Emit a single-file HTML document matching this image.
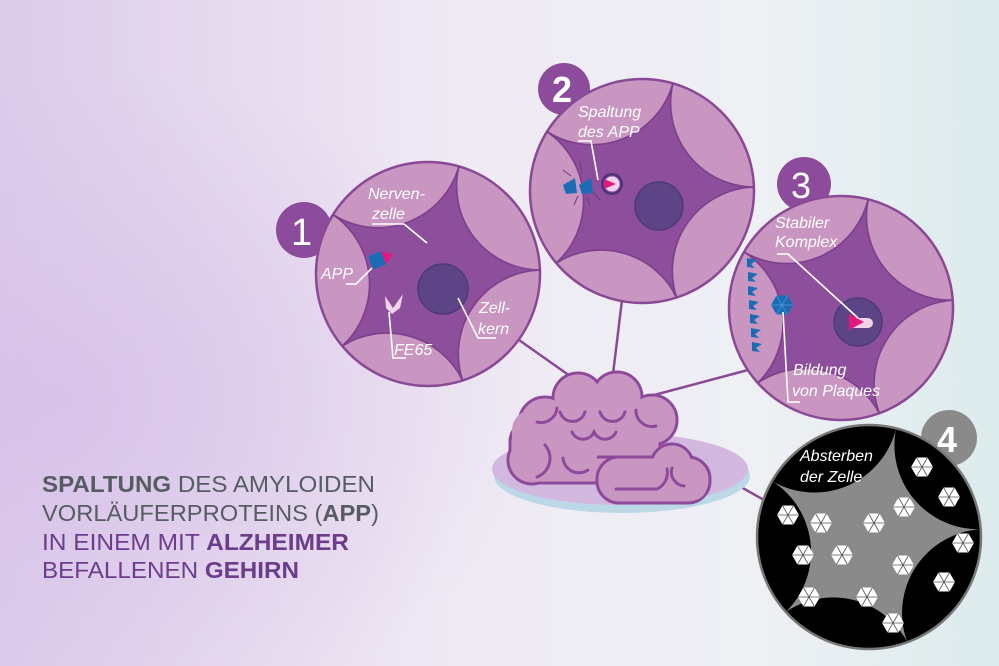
<!DOCTYPE html>
<html><head><meta charset="utf-8"><style>
html,body{margin:0;padding:0;width:999px;height:666px;overflow:hidden}
svg{display:block}
.lbl{font-family:"Liberation Sans",sans-serif;font-style:italic;font-size:16px;fill:#fff}
.ld{fill:none;stroke:#fff;stroke-width:1.6}
.ttl{font-family:"Liberation Sans",sans-serif;font-size:23px}
</style></head><body>
<svg width="999" height="666" viewBox="0 0 999 666" xmlns="http://www.w3.org/2000/svg">
<defs>
<linearGradient id="bg" x1="0" y1="0" x2="1" y2="0">
<stop offset="0" stop-color="#dccbea"/><stop offset="0.45" stop-color="#efe9f4"/><stop offset="0.75" stop-color="#eef0f4"/><stop offset="1" stop-color="#dcebec"/>
</linearGradient>
<radialGradient id="bg2" cx="0.05" cy="0.6" r="0.5">
<stop offset="0" stop-color="#d6bfe8" stop-opacity="0.8"/><stop offset="1" stop-color="#d8c2e8" stop-opacity="0"/>
</radialGradient>
<g id="star">
<path d="M-84.8,-53 A75,75 0 0 0 27.6,-96.1 A75,75 0 0 0 99.9,-3.5 A75,75 0 0 0 30.9,95.1 A75,75 0 0 0 -76.6,64.3 A75,75 0 0 0 -84.8,-53 Z"/>
</g>
<g id="hex">
<polygon points="11,0 5.5,9.5 -5.5,9.5 -11,0 -5.5,-9.5 5.5,-9.5" fill="#fff"/>
<path d="M-11,0 H11 M-5.5,-9.5 L5.5,9.5 M5.5,-9.5 L-5.5,9.5" stroke="#555" stroke-width="0.8"/>
</g>
</defs>
<rect width="999" height="666" fill="url(#bg)"/>
<rect width="999" height="666" fill="url(#bg2)"/>

<g stroke="#8a4a96" stroke-width="2.5" fill="none">
<line x1="519" y1="340" x2="570" y2="376"/>
<line x1="622" y1="300" x2="613" y2="374"/>
<line x1="748" y1="370" x2="643" y2="398"/>
<line x1="700" y1="464" x2="764" y2="500"/>
</g>

<!-- brain -->
<ellipse cx="622" cy="476" rx="128" ry="37" fill="#bcd8e6"/>
<ellipse cx="620" cy="469" rx="128" ry="36" fill="#d2b8de"/>
<g fill="#c996c2" stroke="#8e4a9a" stroke-width="3">
<circle cx="532" cy="460" r="24"/><circle cx="545" cy="423" r="26"/><circle cx="578" cy="398" r="25"/><circle cx="617" cy="397" r="25"/><circle cx="652" cy="420" r="25"/>
<rect x="510" y="420" width="150" height="63" rx="22"/>
</g>
<g fill="#c996c2">
<circle cx="532" cy="460" r="22.5"/><circle cx="545" cy="423" r="24.5"/><circle cx="578" cy="398" r="23.5"/><circle cx="617" cy="397" r="23.5"/><circle cx="652" cy="420" r="23.5"/>
<rect x="512" y="410" width="146" height="71" rx="20"/>
</g>
<circle cx="672" cy="465" r="21" fill="#c996c2" stroke="#8e4a9a" stroke-width="3"/>
<rect x="597" y="457" width="113" height="46" rx="22" fill="#c996c2" stroke="#8e4a9a" stroke-width="3"/>
<rect x="600" y="460" width="100" height="40" rx="20" fill="#c996c2"/>
<circle cx="672" cy="465" r="19.5" fill="#c996c2"/>
<rect x="680" y="462" width="28" height="38" rx="18" fill="#c996c2"/>
<path d="M597,457 H646" fill="none" stroke="#8e4a9a" stroke-width="3"/>
<g fill="none" stroke="#8e4a9a" stroke-width="3" stroke-linecap="round">
<path d="M560,412 a13,13 0 0 0 25,0 M600,412 a13,13 0 0 0 25,0"/>
<path d="M572,432 a12,12 0 0 0 22,0 a12,12 0 0 0 22,0"/>
<path d="M545,445 a20,20 0 0 1 -8,32 M563,458 a16,16 0 0 0 25,12"/>
<path d="M537,422 a16,16 0 0 0 20,-14 M636,410 a16,16 0 0 0 20,16"/>
<path d="M616,489 H657 a18,18 0 0 0 10,-20 M672,468 a14,14 0 0 0 12,18"/>
</g>

<!-- circle 1 -->
<circle cx="304" cy="230" r="28" fill="#8d4c9b"/>
<g transform="translate(428,274)">
<circle r="112" fill="#c896c0" stroke="#8a4996" stroke-width="2.5"/>
<g transform="scale(1.12)" fill="#8d4f9c" stroke="#7e3f8c" stroke-width="1.5"><use href="#star"/></g>
</g>
<text x="291" y="245" font-family="Liberation Sans,sans-serif" font-size="38" fill="#fff">1</text>
<circle cx="443" cy="289" r="25" fill="#5c4486" stroke="#4e3a78" stroke-width="1.5"/>
<g transform="translate(378,260) rotate(-20)"><rect x="-8" y="-7" width="14" height="14" fill="#1a6db4"/><polygon points="6,-7 16,0 6,7" fill="#e3187f"/></g>
<path d="M385,296 l8,12 l10,-14 l-3,14 l-8,6 l-6,-6z" fill="#f3d3e8"/>
<text class="lbl" x="368" y="199">Nerven-</text>
<text class="lbl" x="372" y="219">zelle</text>
<path class="ld" d="M372,224 H404 L427,243"/>
<text class="lbl" x="321" y="279">APP</text>
<path class="ld" d="M346,284 H356 L372,268"/>
<text class="lbl" x="479" y="313">Zell-</text>
<text class="lbl" x="478" y="334">kern</text>
<path class="ld" d="M458,298 L478,338 H496"/>
<text class="lbl" x="394" y="355">FE65</text>
<path class="ld" d="M389,312 L393,358 H406"/>

<!-- circle 2 -->
<circle cx="564" cy="89" r="26" fill="#8d4c9b"/>
<g transform="translate(642,191)">
<circle r="112" fill="#c896c0" stroke="#8a4996" stroke-width="2.5"/>
<g transform="scale(1.12)" fill="#8d4f9c" stroke="#7e3f8c" stroke-width="1.5"><use href="#star"/></g>
</g>
<text x="552" y="102" font-family="Liberation Sans,sans-serif" font-size="36" font-weight="bold" fill="#fff">2</text>
<circle cx="659" cy="206" r="24" fill="#5c4486" stroke="#4e3a78" stroke-width="1.5"/>
<circle cx="612" cy="184" r="11" fill="#4e2f7a"/>
<circle cx="612" cy="184" r="8" fill="#f3d3e8" stroke="#8a5ab0" stroke-width="1"/>
<polygon points="604,179 616,184 604,189" fill="#e3187f"/>
<polygon points="563,185 575,178 577,193 566,194" fill="#1a6db4"/>
<polygon points="579,185 591,178 593,193 582,194" fill="#1a6db4"/>
<g stroke="#6a3a88" stroke-width="1"><line x1="563" y1="170" x2="571" y2="176"/><line x1="580" y1="162" x2="582" y2="174"/><line x1="578" y1="196" x2="574" y2="205"/><line x1="587" y1="197" x2="590" y2="206"/><line x1="593" y1="192" x2="600" y2="200"/></g>
<text class="lbl" x="578" y="117">Spaltung</text>
<text class="lbl" x="578" y="137">des APP</text>
<path class="ld" d="M578,141 H591 L598,180"/>

<!-- circle 3 -->
<circle cx="804" cy="184" r="27" fill="#8d4c9b"/>
<g transform="translate(841,308)">
<circle r="112" fill="#c896c0" stroke="#8a4996" stroke-width="2.5"/>
<g transform="scale(1.12) rotate(-2)" fill="#8d4f9c" stroke="#7e3f8c" stroke-width="1.5"><use href="#star"/></g>
</g>
<text x="791" y="198" font-family="Liberation Sans,sans-serif" font-size="36" fill="#fff">3</text>
<circle cx="858" cy="322" r="24" fill="#5c4486" stroke="#4e3a78" stroke-width="1.5"/>
<path d="M850,318 H868 a5,5 0 0 1 0,10 H850z" fill="#f3d3e8"/>
<polygon points="849,314 864,322 849,330" fill="#e3187f"/>
<g fill="#1a6db4">
<path d="M747,258 l10,2 l-6,4 l4,4 l-8,-1z M748,272 l10,2 l-6,4 l4,4 l-8,-1z M748,286 l10,2 l-6,4 l4,4 l-8,-1z M749,300 l10,2 l-6,4 l4,4 l-8,-1z M750,314 l10,2 l-6,4 l4,4 l-8,-1z M751,328 l10,2 l-6,4 l4,4 l-8,-1z M752,342 l10,2 l-6,4 l4,4 l-8,-1z"/>
</g>
<g transform="translate(782,305)"><polygon points="11,0 5.5,9.5 -5.5,9.5 -11,0 -5.5,-9.5 5.5,-9.5" fill="#1a6db4"/><path d="M-11,0 H11 M-5.5,-9.5 L5.5,9.5 M5.5,-9.5 L-5.5,9.5" stroke="#5a9ad8" stroke-width="0.7"/></g>
<text class="lbl" x="775" y="228">Stabiler</text>
<text class="lbl" x="775" y="247">Komplex</text>
<path class="ld" d="M777,254 H788 L858,318"/>
<text class="lbl" x="793" y="375">Bildung</text>
<text class="lbl" x="792" y="396">von Plaques</text>
<path class="ld" d="M783,312 L788,402 H800"/>

<!-- circle 4 -->
<circle cx="949" cy="438" r="28" fill="#8a8a8a"/>
<g transform="translate(869,537)">
<circle r="112" fill="#000" stroke="#777" stroke-width="2.5"/>
<g transform="scale(1.12) rotate(-2)" fill="#8a8a8a"><use href="#star"/></g>
</g>
<text x="937" y="452" font-family="Liberation Sans,sans-serif" font-size="36" font-weight="bold" fill="#fff">4</text>
<text class="lbl" x="800" y="461">Absterben</text>
<text class="lbl" x="800" y="482">der Zelle</text>
<use href="#hex" x="922" y="467"/><use href="#hex" x="949" y="497"/><use href="#hex" x="904" y="507"/>
<use href="#hex" x="874" y="523"/><use href="#hex" x="821" y="523"/><use href="#hex" x="788" y="515"/>
<use href="#hex" x="963" y="543"/><use href="#hex" x="842" y="555"/><use href="#hex" x="903" y="565"/>
<use href="#hex" x="803" y="555"/><use href="#hex" x="944" y="582"/><use href="#hex" x="809" y="597"/>
<use href="#hex" x="867" y="597"/><use href="#hex" x="893" y="623"/>

<g class="ttl">
<text x="42" y="492" fill="#575b62" textLength="333" lengthAdjust="spacingAndGlyphs"><tspan font-weight="bold">SPALTUNG</tspan> DES AMYLOIDEN</text>
<text x="42" y="521" fill="#575b62" textLength="337" lengthAdjust="spacingAndGlyphs">VORLÄUFERPROTEINS (<tspan font-weight="bold">APP</tspan>)</text>
<text x="42" y="550" fill="#6c3d8a" textLength="307" lengthAdjust="spacingAndGlyphs">IN EINEM MIT <tspan font-weight="bold">ALZHEIMER</tspan></text>
<text x="42" y="578" fill="#6c3d8a" textLength="257" lengthAdjust="spacingAndGlyphs">BEFALLENEN <tspan font-weight="bold">GEHIRN</tspan></text>
</g>
</svg>
</body></html>
